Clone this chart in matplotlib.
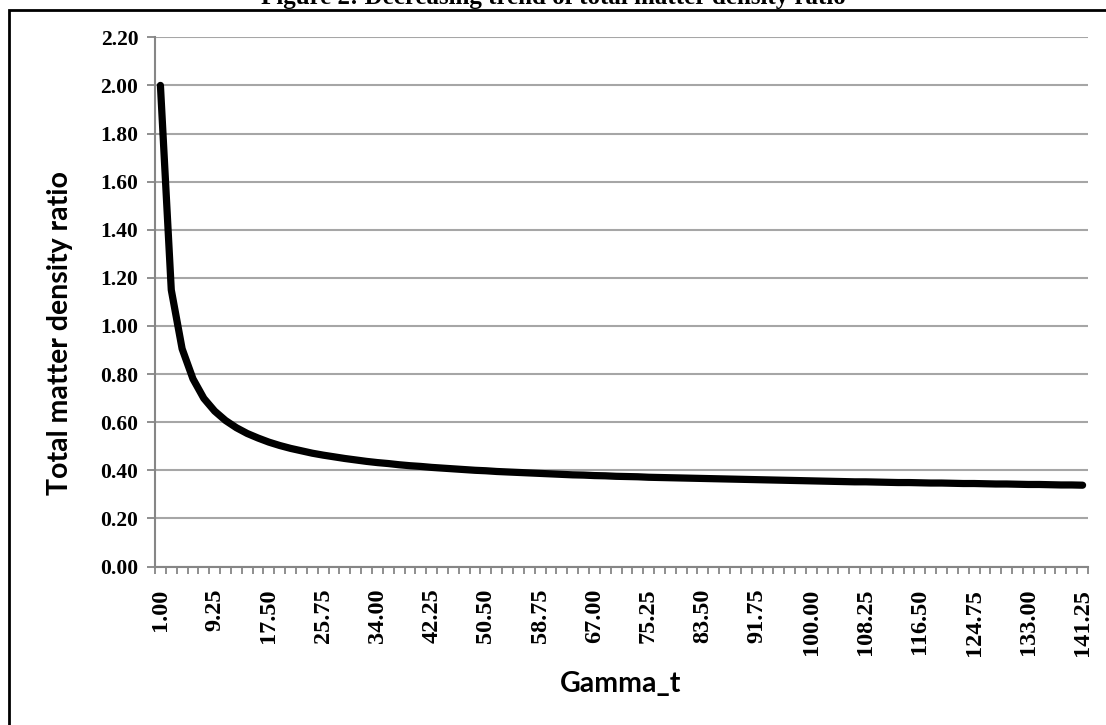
import numpy as np
import matplotlib
matplotlib.use('Agg')
import matplotlib.pyplot as plt
import matplotlib.patches as mpatches

# gamma_t categories (step 1.65), labels every 5th
gamma_t = [1.00 + 1.65 * k for k in range(86)]
ratio = [2.000, 1.150, 0.905, 0.780, 0.699, 0.646, 0.607, 0.577, 0.553, 0.534,
         0.517, 0.503, 0.491, 0.481, 0.471, 0.463, 0.456, 0.449, 0.443, 0.437,
         0.432, 0.428, 0.423, 0.419, 0.416, 0.412, 0.409, 0.406, 0.403, 0.400,
         0.398, 0.395, 0.393, 0.391, 0.389, 0.387, 0.385, 0.383, 0.381, 0.380,
         0.378, 0.377, 0.375, 0.374, 0.373, 0.371, 0.370, 0.369, 0.368, 0.367,
         0.366, 0.365, 0.364, 0.363, 0.362, 0.361, 0.360, 0.359, 0.358, 0.357,
         0.356, 0.355, 0.354, 0.353, 0.352, 0.352, 0.351, 0.350, 0.349, 0.349,
         0.348, 0.347, 0.347, 0.346, 0.345, 0.345, 0.344, 0.343, 0.343, 0.342,
         0.341, 0.341, 0.340, 0.339, 0.339, 0.338]
y_ticks = [0.0, 0.2, 0.4, 0.6, 0.8, 1.0, 1.2, 1.4, 1.6, 1.8, 2.0, 2.2]

W, H = 1106, 725
fig = plt.figure(figsize=(W / 100, H / 100), dpi=100)
ax = fig.add_axes([155 / W, 1 - 566.5 / H, (1088 - 155) / W, (566.5 - 37.3) / H])

grid_c = '#a6a6a6'
axis_c = '#868686'
serif = 'Liberation Serif'

x = np.arange(len(gamma_t))
ax.plot(x, ratio, color='black', lw=5.2, solid_capstyle='round',
        solid_joinstyle='round', zorder=3)

ax.set_xlim(-0.5, len(gamma_t) - 0.5)
ax.set_ylim(0, 2.2)
ax.set_yticks(y_ticks)
ax.set_yticklabels(['%.2f' % v for v in y_ticks], fontfamily=serif,
                   fontweight='bold', fontsize=15.5)
ax.yaxis.grid(True, color=grid_c, lw=1.5)
ax.set_axisbelow(True)

# category boundaries as ticks, labels on every 5th category
ax.set_xticks(np.arange(-0.5, len(gamma_t)), minor=True)
lab_idx = x[::5]
ax.set_xticks(lab_idx)
ax.set_xticklabels(['%.2f' % gamma_t[i] for i in lab_idx], rotation=90,
                   fontfamily=serif, fontweight='bold', fontsize=17.5)
ax.tick_params(axis='x', which='major', length=0, pad=16)
ax.tick_params(axis='x', which='minor', length=5, width=1.3, color=axis_c,
               direction='out')
ax.tick_params(axis='y', length=6, width=1.3, color=axis_c, pad=6)

for s in ['top', 'right']:
    ax.spines[s].set_visible(False)
for s in ['left', 'bottom']:
    ax.spines[s].set_color(axis_c)
    ax.spines[s].set_linewidth(1.5)

fig.text(60 / W, 1 - 333 / H, 'Total matter density ratio', rotation=90,
         ha='center', va='center', fontfamily='Lato', fontweight='bold',
         fontsize=20.5)
fig.text(621 / W, 1 - 684 / H, 'Gamma_t', ha='center', va='center',
         fontfamily='Lato', fontweight='bold', fontsize=20.5)

fig.text(553 / W, 1 - 4 / H, 'Figure 2: Decreasing trend of total matter density ratio',
         ha='center', va='baseline', fontfamily=serif, fontweight='bold',
         fontsize=18)

# outer chart border, running off the right and bottom edges
border = mpatches.Rectangle((9 / W, -0.05), 1.1, 1 - 9.5 / H + 0.05,
                            transform=fig.transFigure, fill=False,
                            edgecolor='black', lw=2)
fig.patches.append(border)

fig.savefig('out.png', dpi=100)
